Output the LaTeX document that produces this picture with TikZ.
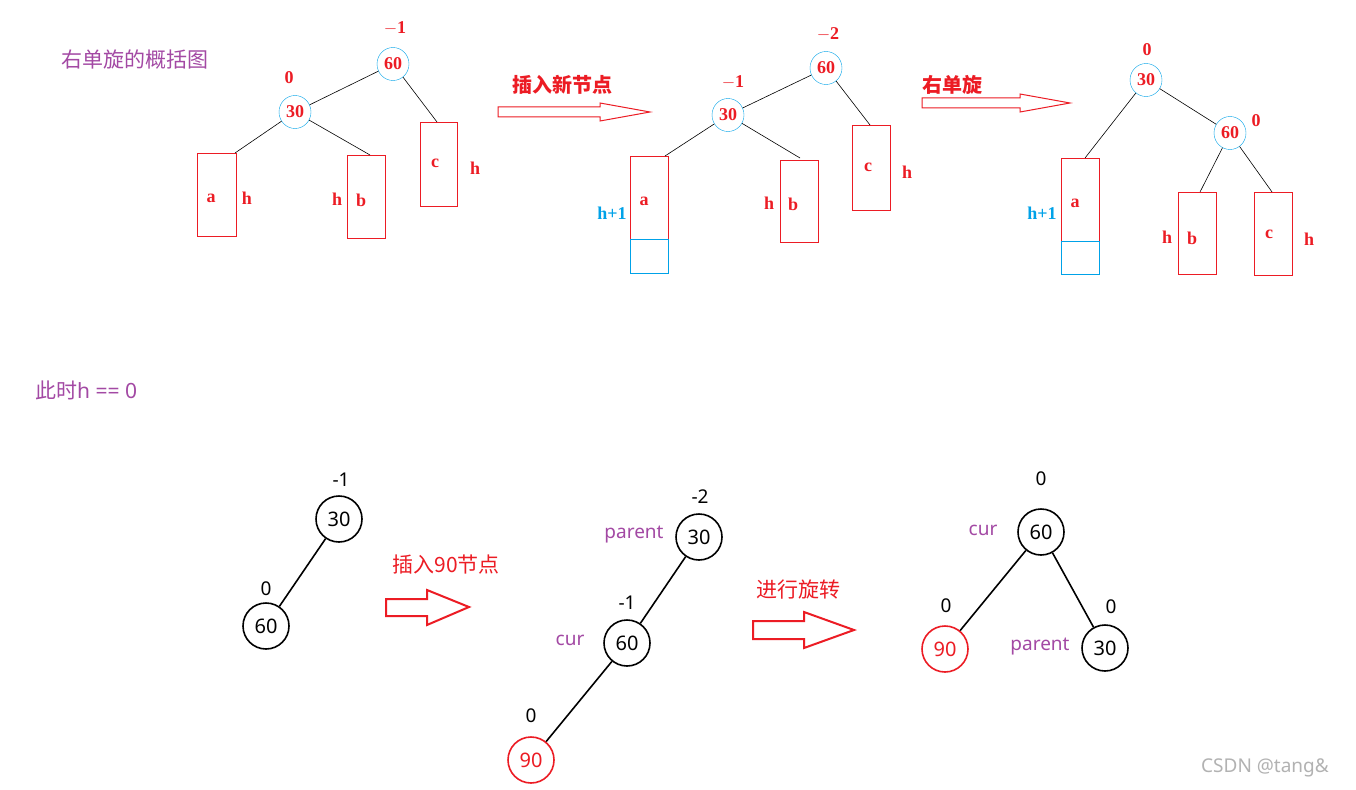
\documentclass[tikz,border=0pt]{standalone}
\usepackage{fontspec}
\setmainfont{Liberation Serif}
\newfontfamily\cjk{Noto Sans CJK SC}
\newfontfamily\mysans{Noto Sans}
\usetikzlibrary{shapes.geometric}
\definecolor{myred}{RGB}{236,28,36}
\definecolor{mypur}{RGB}{163,73,164}
\definecolor{myblue}{RGB}{0,162,232}
\begin{document}
\begin{tikzpicture}[x=1pt,y=-1pt,
  tn/.style={draw=myblue,ellipse,minimum width=32pt,minimum height=33pt,inner sep=0pt,text=myred,font=\fontsize{18}{18}\selectfont\bfseries},
  tl/.style={text=myred,font=\fontsize{18}{18}\selectfont\bfseries,inner sep=0pt},
  bl/.style={text=myblue,font=\fontsize{18}{18}\selectfont\bfseries,inner sep=0pt},
  rc/.style={draw=myred,line width=0.8pt},
  bc/.style={draw=myblue,line width=0.8pt},
  edge/.style={line width=0.6pt},
  ha/.style={draw=myred,line width=1pt,line join=miter},
  hb/.style={draw=myred,line width=2pt,line join=miter},
  cn/.style={circle,draw,line width=1.6pt,minimum size=46pt,inner sep=0pt,font=\mysans\fontsize{20}{20}\selectfont},
  cl/.style={font=\mysans\fontsize{19}{19}\selectfont,inner sep=0pt},
  pl/.style={font=\mysans\fontsize{19}{19}\selectfont,text=mypur,inner sep=0pt},
  zh/.style={font=\cjk\fontsize{21}{21}\selectfont,inner sep=0pt}]
\useasboundingbox (0,0) rectangle (1356,789);
\fill[white] (0,0) rectangle (1356,789);
\node[zh,text=mypur] (t1) at (135,60) {右单旋的概括图};
% ---- tree 1
\node[tn] (a60) at (393,64) {60};
\node[tl] at (395,28) {$-$1};
\node[tn] (a30) at (295,112) {30};
\node[tl] at (289,78) {0};
\draw[rc] (197,153) rectangle (236,236);
\coordinate (aa) at (235,153);
\node[tl] at (211,198) {a}; \node[tl] at (247,198) {h};
\draw[rc] (347,155) rectangle (385,238);
\coordinate (ab) at (370,155);
\node[tl] at (337,199) {h}; \node[tl] at (361,200) {b};
\draw[rc] (420,122) rectangle (457,206);
\coordinate (ac) at (437,122);
\node[tl] at (435,163) {c}; \node[tl] at (475,168) {h};
\draw[edge] (a60) -- (a30); \draw[edge] (a60) -- (ac);
\draw[edge] (a30) -- (aa); \draw[edge] (a30) -- (ab);
\draw[ha] (498,107) -- (600,107) -- (600,103) -- (650,112) -- (600,121) -- (600,117) -- (498,117) -- cycle;
\node[zh,text=myred,font=\cjk\fontsize{20}{20}\selectfont\bfseries] (l1) at (562,85) {插入新节点};
% ---- tree 2
\node[tn] (b60) at (826,68) {60};
\node[tl] at (828,34) {$-$2};
\node[tn] (b30) at (728,115) {30};
\node[tl] at (733,82) {$-$1};
\draw[rc] (630,156) rectangle (668,239);
\draw[bc] (630,239) rectangle (668,273);
\coordinate (ba) at (665,156);
\node[bl] at (612,213) {h+1}; \node[tl] at (644,201) {a};
\draw[rc] (780,160) rectangle (818,242);
\coordinate (bb) at (800,158);
\node[tl] at (769,203) {h}; \node[tl] at (793,204) {b};
\draw[rc] (852,125) rectangle (890,210);
\coordinate (bc2) at (870,125);
\node[tl] at (868,167) {c}; \node[tl] at (907,172) {h};
\draw[edge] (b60) -- (b30); \draw[edge] (b60) -- (bc2);
\draw[edge] (b30) -- (ba); \draw[edge] (b30) -- (bb);
\draw[ha] (922,98) -- (1020,98) -- (1020,94) -- (1070,103) -- (1020,112) -- (1020,108) -- (922,108) -- cycle;
\node[zh,text=myred,font=\cjk\fontsize{20}{20}\selectfont\bfseries] (l2) at (952,85) {右单旋};
% ---- tree 3
\node[tn] (c30) at (1146,80) {30};
\node[tl] at (1147,50) {0};
\node[tn] (c60) at (1230,133) {60};
\node[tl] at (1256,121) {0};
\draw[rc] (1061,158) rectangle (1099,241);
\draw[bc] (1061,241) rectangle (1099,274);
\coordinate (ca) at (1085,158);
\node[bl] at (1042,213) {h+1}; \node[tl] at (1075,203) {a};
\draw[rc] (1178,192) rectangle (1216,274);
\coordinate (cb) at (1200,192);
\node[tl] at (1167,237) {h}; \node[tl] at (1192,238) {b};
\draw[rc] (1254,192) rectangle (1292,275);
\coordinate (cc) at (1272,192);
\node[tl] at (1269,234) {c}; \node[tl] at (1309,239) {h};
\draw[edge] (c30) -- (ca); \draw[edge] (c30) -- (c60);
\draw[edge] (c60) -- (cb); \draw[edge] (c60) -- (cc);
% ---- bottom
\node[zh,text=mypur,anchor=west] (t2) at (35,390) {此时{\mysans h == 0}};
\node[cn] (d30) at (339,519) {30};
\node[cl] at (341,480) {-1};
\node[cn] (d60) at (266,626) {60};
\node[cl] at (266,589) {0};
\draw[line width=1.6pt] (d30) -- (d60);
\node[zh,text=myred] (l3) at (446,565) {插入90节点};
\draw[hb] (386,599) -- (427,599) -- (427,590) -- (469,607) -- (427,625) -- (427,616) -- (386,616) -- cycle;
\node[cn] (e30) at (699,537) {30};
\node[cl] at (700,497) {-2};
\node[pl] at (634,535) {parent};
\node[cn] (e60) at (627,643) {60};
\node[cl] at (627,603) {-1};
\node[pl] at (570,640) {cur};
\node[cn,draw=myred,text=myred] (e90) at (531,760) {90};
\node[cl] at (531,716) {0};
\draw[line width=1.6pt] (e30) -- (e60);
\draw[line width=1.6pt] (e60) -- (e90);
\node[zh,text=myred] (l4) at (798,590) {进行旋转};
\draw[hb] (753,621) -- (804,621) -- (804,612) -- (854,630) -- (804,648) -- (804,639) -- (753,639) -- cycle;
\node[cn] (f60) at (1041,532) {60};
\node[cl] at (1041,479) {0};
\node[pl] at (983,530) {cur};
\node[cn,draw=myred,text=myred] (f90) at (945,649) {90};
\node[cl] at (946,606) {0};
\node[cn] (f30) at (1105,648) {30};
\node[cl] at (1111,607) {0};
\node[pl] at (1040,647) {parent};
\draw[line width=1.6pt] (f60) -- (f90);
\draw[line width=1.6pt] (f60) -- (f30);
\node[font=\mysans\fontsize{19}{19}\selectfont,text=black!30,inner sep=0pt] (wm) at (1265,768) {CSDN @tang\&};
\end{tikzpicture}
\end{document}
